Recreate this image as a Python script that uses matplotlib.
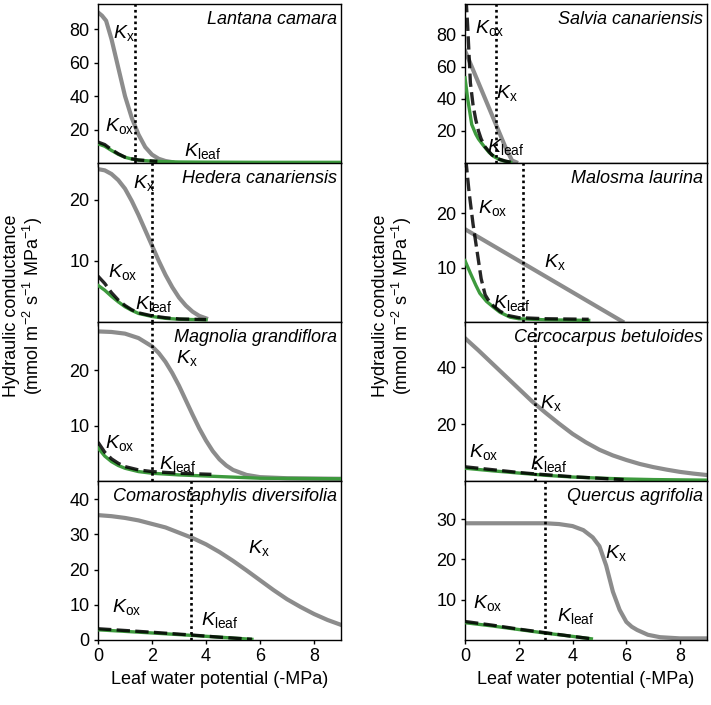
import matplotlib
matplotlib.use("Agg")
import matplotlib.pyplot as plt

plt.rcParams['font.family'] = ['Liberation Sans', 'DejaVu Sans']
plt.rcParams['mathtext.fontset'] = 'custom'
plt.rcParams['mathtext.rm'] = 'Liberation Sans'
plt.rcParams['mathtext.it'] = 'Liberation Sans:italic'
plt.rcParams['font.size'] = 13

# ---- data ----
species = ["Lantana camara", "Hedera canariensis", "Magnolia grandiflora",
           "Comarostaphylis diversifolia", "Salvia canariensis", "Malosma laurina",
           "Cercocarpus betuloides", "Quercus agrifolia"]

# Lantana camara
lc_kx_x = [0, 0.15, 0.3, 0.5, 0.75, 1.0, 1.25, 1.5, 1.75, 2.0, 2.25, 2.5, 2.75]
lc_kx_y = [90, 88, 85, 74, 57, 40, 27, 17, 9.5, 5, 2.5, 1.2, 0.5]
lc_kox_x = [0, 0.25, 0.5, 0.75, 1.0, 1.25, 1.5, 2.0, 2.2]
lc_kox_y = [12.5, 11, 8, 5.5, 3.5, 2.5, 1.8, 1.2, 1.0]
lc_kleaf_x = [0, 0.25, 0.5, 0.75, 1.0, 1.25, 1.5, 2.0, 2.5, 3, 4, 6, 9]
lc_kleaf_y = [11.5, 10, 7.5, 5.2, 3.4, 2.4, 1.7, 1.1, 0.8, 0.6, 0.5, 0.4, 0.4]

# Hedera canariensis
hc_kx_x = [0, 0.25, 0.5, 0.75, 1.0, 1.25, 1.5, 1.75, 2.0, 2.25, 2.5, 2.75, 3.0, 3.25, 3.5, 3.75, 4.0]
hc_kx_y = [25, 24.8, 24.2, 23.2, 21.8, 19.8, 17.5, 15, 12.5, 10, 7.7, 5.7, 4.0, 2.7, 1.7, 1.0, 0.6]
hc_kox_x = [0, 0.25, 0.5, 0.75, 1.0, 1.25, 1.5, 2.0, 2.5, 3, 4]
hc_kox_y = [7.5, 6.3, 4.8, 3.6, 2.7, 2.0, 1.5, 1.0, 0.7, 0.5, 0.4]
hc_kleaf_x = [0, 0.25, 0.5, 0.75, 1.0, 1.25, 1.5, 2.0, 2.5, 3, 4]
hc_kleaf_y = [6, 5.2, 4.2, 3.3, 2.5, 1.9, 1.4, 0.9, 0.6, 0.45, 0.35]

# Magnolia grandiflora
mg_kx_x = [0, 0.5, 1.0, 1.5, 2.0, 2.25, 2.5, 2.75, 3.0, 3.25, 3.5, 3.75, 4.0, 4.25, 4.5,
           4.75, 5.0, 5.5, 6.0, 7, 9]
mg_kx_y = [27, 26.9, 26.6, 25.8, 24.3, 23.1, 21.5, 19.5, 17.2, 14.6, 12, 9.5, 7.3, 5.4, 3.9,
           2.8, 2.0, 1.1, 0.7, 0.5, 0.4]
mg_kox_x = [0, 0.25, 0.5, 0.75, 1.0, 1.5, 2.0, 3.0, 4.2]
mg_kox_y = [7, 5.2, 4.0, 3.2, 2.6, 2.0, 1.7, 1.4, 1.2]
mg_kleaf_x = [0, 0.25, 0.5, 0.75, 1.0, 1.5, 2.0, 3, 4, 5, 6, 9]
mg_kleaf_y = [6, 4.5, 3.5, 2.8, 2.3, 1.7, 1.4, 1.1, 0.9, 0.7, 0.5, 0.4]

# Comarostaphylis diversifolia
cd_kx_x = [0, 0.5, 1, 1.5, 2, 2.5, 3, 3.5, 4, 4.5, 5, 5.5, 6, 6.5, 7, 7.5, 8, 8.5, 9]
cd_kx_y = [35.5, 35.2, 34.7, 34, 33, 32, 30.5, 29, 27.2, 25, 22.5, 19.8, 17, 14.2, 11.6,
           9.4, 7.4, 5.7, 4.3]
cd_kox_x = [0, 2, 3.5, 4.5, 5.7]
cd_kox_y = [3.2, 2.2, 1.4, 0.8, 0.2]
cd_kleaf_x = [0, 2, 3.5, 4.5, 5.7]
cd_kleaf_y = [2.9, 2.0, 1.3, 0.8, 0.2]

# Salvia canariensis
sc_kx_x = [0, 0.25, 0.5, 0.75, 1.0, 1.25, 1.5, 1.75, 1.9]
sc_kx_y = [70, 60, 50, 40, 30, 20, 10, 1.5, 0.5]
sc_kox_x = [0.03, 0.1, 0.2, 0.3, 0.4, 0.5, 0.6, 0.75, 1.0, 1.25, 1.5, 1.7]
sc_kox_y = [105, 85, 50, 36, 27, 20, 15, 10, 5, 2.5, 1.2, 0.5]
sc_kleaf_x = [0, 0.1, 0.25, 0.4, 0.5, 0.68, 0.9, 1.1, 1.3, 1.5, 1.7]
sc_kleaf_y = [53, 40, 24, 18, 15, 11, 6.5, 3.8, 2, 1, 0.4]

# Malosma laurina
ml_kx_x = [0, 5.85]
ml_kx_y = [17.1, 0.1]
ml_kox_x = [0.03, 0.15, 0.3, 0.45, 0.6, 0.75, 0.9, 1.05, 1.3, 1.6, 2.0, 3, 4.6]
ml_kox_y = [30, 24, 18, 13, 8, 5, 3.8, 3, 2, 1.2, 0.8, 0.6, 0.5]
ml_kleaf_x = [0, 0.2, 0.4, 0.55, 0.8, 1.04, 1.3, 1.67, 2.0, 3, 4.6]
ml_kleaf_y = [11.3, 9, 6.8, 5.3, 3.8, 2.8, 1.8, 0.9, 0.6, 0.4, 0.3]

# Cercocarpus betuloides
cb_kx_x = [0, 0.5, 1, 1.5, 2, 2.5, 3, 3.5, 4, 4.5, 5, 5.5, 6, 6.5, 7, 7.5, 8, 8.5, 9]
cb_kx_y = [50.3, 46, 41.5, 37, 32.5, 28, 24, 20.2, 16.6, 13.6, 11, 9, 7.4, 6.0, 4.9,
           4.0, 3.2, 2.6, 2.1]
cb_kox_x = [0, 1, 2, 2.6, 4, 5.9]
cb_kox_y = [5, 4, 3, 2.5, 1.5, 0.5]
cb_kleaf_x = [0, 1, 2, 3, 4, 5, 6, 7, 9]
cb_kleaf_y = [4.5, 3.6, 2.8, 2, 1.4, 1, 0.7, 0.5, 0.3]

# Quercus agrifolia
qa_kx_x = [0, 3, 3.5, 4, 4.4, 4.75, 5.0, 5.25, 5.5, 5.75, 6.0, 6.2, 6.4, 6.8, 7.25, 8, 9]
qa_kx_y = [29, 29, 28.8, 28.3, 27.3, 25.5, 23.3, 18.5, 12, 7.5, 4.5, 3.3, 2.5, 1.3, 0.7, 0.4, 0.4]
qa_kox_x = [0, 1, 2, 3, 4, 4.7]
qa_kox_y = [4.6, 3.7, 2.7, 1.8, 0.9, 0.3]
qa_kleaf_x = [0, 1, 2, 3, 4, 4.7]
qa_kleaf_y = [4.3, 3.5, 2.6, 1.7, 0.9, 0.3]

# dotted reference line per species
turgor_loss = [1.37, 2.0, 2.0, 3.45, 1.17, 2.16, 2.6, 2.98]

curves = [
    (lc_kx_x, lc_kx_y, lc_kox_x, lc_kox_y, lc_kleaf_x, lc_kleaf_y),
    (hc_kx_x, hc_kx_y, hc_kox_x, hc_kox_y, hc_kleaf_x, hc_kleaf_y),
    (mg_kx_x, mg_kx_y, mg_kox_x, mg_kox_y, mg_kleaf_x, mg_kleaf_y),
    (cd_kx_x, cd_kx_y, cd_kox_x, cd_kox_y, cd_kleaf_x, cd_kleaf_y),
    (sc_kx_x, sc_kx_y, sc_kox_x, sc_kox_y, sc_kleaf_x, sc_kleaf_y),
    (ml_kx_x, ml_kx_y, ml_kox_x, ml_kox_y, ml_kleaf_x, ml_kleaf_y),
    (cb_kx_x, cb_kx_y, cb_kox_x, cb_kox_y, cb_kleaf_x, cb_kleaf_y),
    (qa_kx_x, qa_kx_y, qa_kox_x, qa_kox_y, qa_kleaf_x, qa_kleaf_y),
]

# axes limits and ticks
ymax = [95, 26, 28.7, 45.2, 99, 29.3, 56, 39.5]
yticks = [[20, 40, 60, 80], [10, 20], [10, 20], [0, 10, 20, 30, 40],
          [20, 40, 60, 80], [10, 20], [20, 40], [10, 20, 30]]

# label anchor points (left edge / baseline of K), data coords: Kx, Kox, Kleaf
label_pos = [
    [(0.55, 74.7), (0.26, 19), (3.2, 4.2)],
    [(1.3, 21.9), (0.38, 7.4), (1.37, 2.2)],
    [(2.9, 21.3), (0.26, 5.9), (2.26, 2.15)],
    [(5.57, 24.6), (0.5, 8.0), (3.83, 4.3)],
    [(1.17, 40.7), (0.37, 81), (0.8, 6.6)],
    [(2.95, 10.2), (0.5, 20), (1.05, 2.5)],
    [(2.79, 25.6), (0.16, 8.5), (2.42, 4.4)],
    [(5.2, 20.3), (0.31, 7.9), (3.41, 4.6)],
]

# ---- figure ----
fig = plt.figure(figsize=(7.11, 7.05), dpi=100)

W, H = 711.0, 705.0
col_left = [98 / W, 465 / W]
col_width = [243 / W, 242 / W]
panel_h = 159 / H
bottoms = [1 - 163 / H, 1 - 322 / H, 1 - 481 / H, 1 - 640 / H]

gray = '#8c8c8c'
green = '#3d9a3d'

for i in range(8):
    col = i // 4
    row = i % 4
    ax = fig.add_axes([col_left[col], bottoms[row], col_width[col], panel_h])
    kx_x, kx_y, kox_x, kox_y, kl_x, kl_y = curves[i]

    ax.plot(kx_x, kx_y, color=gray, lw=3.0, solid_joinstyle='round', zorder=2)
    ax.plot(kl_x, kl_y, color=green, lw=2.4, solid_joinstyle='round', zorder=3)
    ax.plot(kox_x, kox_y, color='black', lw=2.4, dashes=(4, 1.6), alpha=0.85, zorder=4)
    ax.axvline(turgor_loss[i], color='black', lw=1.9, dashes=(1, 1.2), zorder=5)

    ax.set_xlim(0, 9)
    ax.set_ylim(0, ymax[i])
    ax.set_xticks([0, 2, 4, 6, 8])
    ax.set_yticks(yticks[i])
    ax.tick_params(direction='out', length=3, width=1, labelsize=13, pad=3)
    if row < 3:
        ax.tick_params(labelbottom=False)
    else:
        ax.set_xlabel('Leaf water potential (-MPa)', fontsize=13, labelpad=4)
    for s in ax.spines.values():
        s.set_linewidth(1.0)

    ax.text(0.983, 0.955, species[i], transform=ax.transAxes, ha='right', va='top',
            style='italic', fontsize=13)

    (x1, y1), (x2, y2), (x3, y3) = label_pos[i]
    ax.text(x1, y1, r'$K_{\mathrm{x}}$', fontsize=14, ha='left', va='baseline', zorder=6)
    ax.text(x2, y2, r'$K_{\mathrm{ox}}$', fontsize=14, ha='left', va='baseline', zorder=6)
    ax.text(x3, y3, r'$K_{\mathrm{leaf}}$', fontsize=14, ha='left', va='baseline', zorder=6)

ylab = 'Hydraulic conductance\n(mmol m$^{-2}$ s$^{-1}$ MPa$^{-1}$)'
fig.text(24 / W, 1 - 306 / H, ylab, rotation=90, ha='center', va='center',
         multialignment='center', fontsize=13, linespacing=1.0)
fig.text(393 / W, 1 - 306 / H, ylab, rotation=90, ha='center', va='center',
         multialignment='center', fontsize=13, linespacing=1.0)

fig.savefig('out.png', dpi=100)
